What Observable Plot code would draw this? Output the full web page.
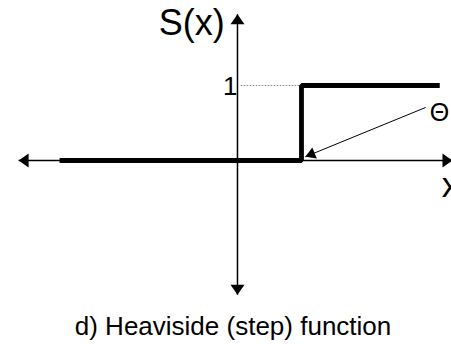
<!DOCTYPE html>
<html>
<head>
<meta charset="utf-8">
<script src="https://cdn.jsdelivr.net/npm/d3@7"></script>
<script src="https://cdn.jsdelivr.net/npm/@observablehq/plot@0.6"></script>
<style>
  html, body { margin: 0; padding: 0; background: #fff; }
</style>
</head>
<body>
<div id="chart"></div>
<script>
// Heaviside step function data
const stepX = [-2.78, 1, 1, 3.16];
const stepY = [0, 0, 1, 1];
const theta = 1;
const level = 1;
// axis extents (arrow tips)
const xAxisEnds = [-3.42, 3.36];
const yAxisEnds = [-1.79, 1.95];
// theta annotation arrow (from label to step point)
const thetaArrowFrom = [2.94, 0.707];
const thetaArrowTo = [1.06, 0.05];
// labels
const yLabel = "S(x)";
const xLabel = "x";
const tickLabel = "1";
const thetaLabel = "Θ";
const caption = "d) Heaviside (step) function";

const stepData = stepX.map((x, i) => ({x, y: stepY[i]}));

function head(len, half) {
  return (color, context) => {
    const ns = "http://www.w3.org/2000/svg";
    const doc = context.document;
    const m = doc.createElementNS(ns, "marker");
    m.setAttribute("viewBox", `${-len} ${-half} ${len} ${2 * half}`);
    m.setAttribute("markerWidth", len);
    m.setAttribute("markerHeight", 2 * half);
    m.setAttribute("markerUnits", "userSpaceOnUse");
    m.setAttribute("orient", "auto-start-reverse");
    m.setAttribute("refX", 0);
    m.setAttribute("refY", 0);
    m.setAttribute("overflow", "visible");
    const p = doc.createElementNS(ns, "path");
    p.setAttribute("d", `M0,0L${-len},${-half}L${-len},${half}Z`);
    p.setAttribute("fill", color);
    p.setAttribute("stroke", "none");
    m.appendChild(p);
    return m;
  };
}

const chart = Plot.plot({
  width: 451,
  height: 344,
  margin: 0,
  style: {fontFamily: "'Liberation Sans', Arial, sans-serif", background: "#fff", color: "#000"},
  x: {domain: [-3.703, 3.344], axis: null},
  y: {domain: [-2.453, 2.133], axis: null},
  marks: [
    // axes with arrowheads
    Plot.link([0], {x1: xAxisEnds[0], x2: xAxisEnds[1], y1: 0, y2: 0,
      stroke: "#000", strokeWidth: 1.5, markerStart: head(10, 7), markerEnd: head(10, 7)}),
    Plot.link([0], {x1: 0, x2: 0, y1: yAxisEnds[0], y2: yAxisEnds[1],
      stroke: "#000", strokeWidth: 1.5, markerStart: head(10, 7), markerEnd: head(10, 7)}),
    // dotted guide at level 1
    Plot.link([0], {x1: 0.05, x2: theta, y1: level, y2: level,
      stroke: "#888", strokeWidth: 1, strokeDasharray: "1.5,1.5"}),
    // step function
    Plot.line(stepData, {x: "x", y: "y", stroke: "#000", strokeWidth: 4.8,
      strokeLinejoin: "miter", strokeLinecap: "butt"}),
    // theta annotation arrow
    Plot.link([0], {x1: thetaArrowFrom[0], y1: thetaArrowFrom[1], x2: thetaArrowTo[0], y2: thetaArrowTo[1],
      stroke: "#000", strokeWidth: 1, markerEnd: head(10, 6)}),
    // labels
    Plot.text([yLabel], {x: -0.2, y: 1.667, text: d => d, textAnchor: "end", lineAnchor: "bottom", fontSize: 36, fill: "#000"}),
    Plot.text([tickLabel], {x: 0, y: 0.867, text: d => d, textAnchor: "end", lineAnchor: "bottom", fontSize: 26, fill: "#000"}),
    Plot.text([thetaLabel], {x: 3.156, y: 0.533, text: d => d, textAnchor: "middle", lineAnchor: "bottom", fontSize: 25, fill: "#000"}),
    Plot.text([xLabel], {x: 3.19, y: -0.493, text: d => d, textAnchor: "start", lineAnchor: "bottom", fontSize: 35, fill: "#000"}),
    Plot.text([caption], {x: -0.07, y: -2.333, text: d => d, textAnchor: "middle", lineAnchor: "bottom", fontSize: 26, fill: "#000"})
  ]
});
document.getElementById("chart").appendChild(chart);
</script>
</body>
</html>
